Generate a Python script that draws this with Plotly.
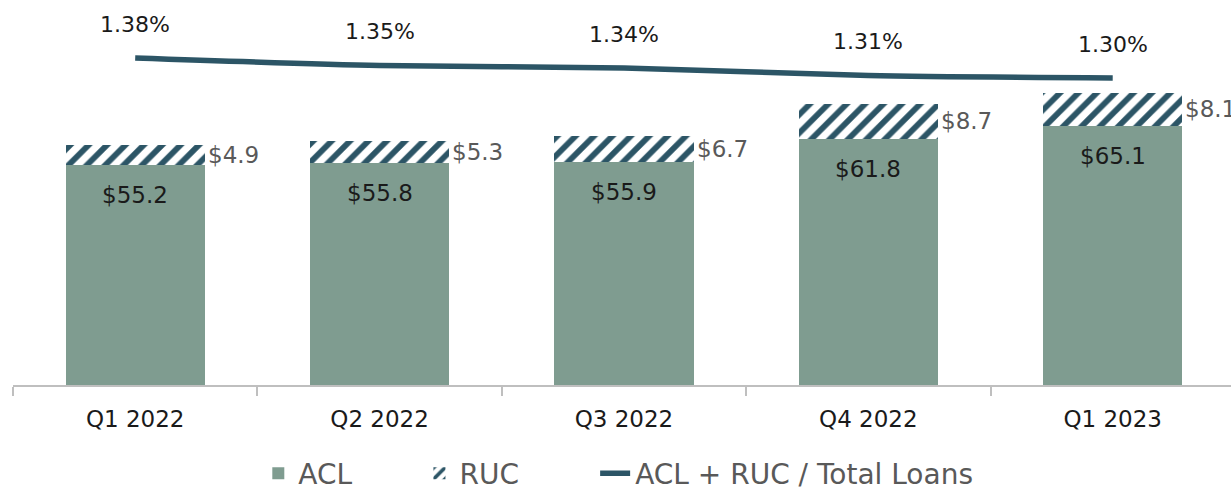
import plotly.graph_objects as go

quarters = ["Q1 2022", "Q2 2022", "Q3 2022", "Q4 2022", "Q1 2023"]
acl = [55.2, 55.8, 55.9, 61.8, 65.1]
ruc = [4.9, 5.3, 6.7, 8.7, 8.1]
ratio = [1.38, 1.35, 1.34, 1.31, 1.30]
series_names = ["ACL", "RUC", "ACL + RUC / Total Loans"]

ACL_C = "#7f9c90"
DARK = "#2c5566"
BASE = "DejaVu Sans"
NB = "\u00a0"

fig = go.Figure()
fig.add_trace(go.Bar(
    x=quarters, y=acl, name=series_names[0] + NB * 7,
    marker=dict(color=ACL_C, line=dict(width=0)),
))
fig.add_trace(go.Bar(
    x=quarters, y=ruc, name=series_names[1] + NB * 8,
    marker=dict(color=DARK, line=dict(width=0),
                pattern=dict(shape="/", fgcolor=DARK, bgcolor="white", fgopacity=1,
                             size=13, solidity=0.45, fillmode="replace")),
))
fig.add_trace(go.Scatter(
    x=quarters, y=ratio, name=series_names[2], yaxis="y2",
    mode="lines", line=dict(color=DARK, width=5.5, shape="spline", smoothing=0.8),
))

half = 0.57 / 2
annotations = []
for i, q in enumerate(quarters):
    annotations.append(dict(x=q, y=acl[i], xref="x", yref="y", text=f"${acl[i]:.1f}",
                            showarrow=False, yshift=-30, yanchor="middle",
                            font=dict(family=BASE, size=23, color="#1a1a1a")))
    annotations.append(dict(x=i + half, y=acl[i] + ruc[i] / 2, xref="x", yref="y",
                            text=f"${ruc[i]:.1f}", showarrow=False, xanchor="left",
                            xshift=1, yanchor="middle",
                            font=dict(family=BASE, size=23, color="#595959")))
    annotations.append(dict(x=q, y=ratio[i], xref="x", yref="y2", text=f"{ratio[i]:.2f}%",
                            showarrow=False, yshift=34, yanchor="middle",
                            font=dict(family=BASE, size=22, color="#1a1a1a")))

fig.update_layout(
    width=1231, height=491,
    margin=dict(l=13, r=0, t=0, b=106, autoexpand=False),
    paper_bgcolor="white", plot_bgcolor="white",
    barmode="stack", bargap=0.43,
    showlegend=True,
    legend=dict(orientation="h", x=0.2014, xanchor="left", y=-0.23, yanchor="middle",
                font=dict(family=BASE, size=28, color="#595959"),
                traceorder="normal", itemwidth=30),
    xaxis=dict(range=[-0.5, 4.484], showgrid=False, showline=True, linecolor="#bfbfbf",
               linewidth=2, ticks="outside", tickson="boundaries", ticklen=9,
               tickcolor="#bfbfbf", tickwidth=2, ticklabelstandoff=12,
               tickfont=dict(family=BASE, size=23, color="#1a1a1a")),
    yaxis=dict(range=[0, 96.6], visible=False, showgrid=False),
    yaxis2=dict(range=[0.072, 1.612], overlaying="y", side="right", visible=False,
                showgrid=False),
    annotations=annotations,
)

fig.write_html("out.html", config={"displayModeBar": False},
               post_script="document.body.style.margin='0';")
